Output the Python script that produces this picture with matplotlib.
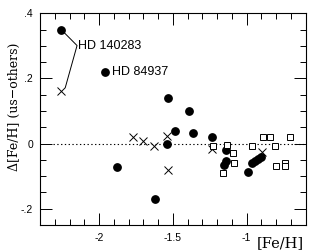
import matplotlib
matplotlib.use('Agg')
import matplotlib.pyplot as plt
from matplotlib.ticker import MultipleLocator

# filled circles
circ_feh = [-2.261, -1.957, -1.530, -1.388, -1.484, -1.361, -1.232, -1.541,
            -1.140, -1.155, -1.140, -0.989, -0.966, -0.945, -0.925, -0.900,
            -1.620, -1.878]
circ_d = [0.350, 0.221, 0.141, 0.100, 0.039, 0.031, 0.020, 0.000,
          -0.020, -0.066, -0.054, -0.087, -0.060, -0.053, -0.047, -0.040,
          -0.170, -0.071]

# crosses
cross_feh = [-2.261, -1.770, -1.699, -1.626, -1.541, -1.530, -1.232, -0.899]
cross_d = [0.161, 0.020, 0.008, -0.008, 0.022, -0.081, -0.018, -0.026]

# open squares
sq_feh = [-1.230, -1.135, -1.095, -1.086, -1.158, -0.966, -0.892, -0.843,
          -0.809, -0.802, -0.739, -0.739, -0.707]
sq_d = [-0.008, -0.005, -0.029, -0.059, -0.090, -0.008, 0.020, 0.020,
        -0.008, -0.069, -0.059, -0.069, 0.020]

xticks = [-2, -1.5, -1]
xticklabels = ['-2', '-1.5', '-1']
yticks = [-0.2, 0, 0.2, 0.4]
yticklabels = ['-.2', '0', '.2', '.4']

fig = plt.figure(figsize=(3.09, 2.52), dpi=100)
ax = fig.add_axes([0.1294, 0.1071, 0.86, 0.8401])

ax.plot([-2.31, -0.6], [0, 0], color='black', linestyle=(0, (1.2, 2.2)), lw=0.8)

ax.plot(circ_feh, circ_d, 'o', color='black', markersize=5.3, linestyle='none')
ax.plot(cross_feh, cross_d, 'x', color='black', markersize=5.6, mew=0.7, linestyle='none')
ax.plot(sq_feh, sq_d, 's', mfc='white', mec='black', markersize=4.3, mew=0.7, linestyle='none')

# star labels
ax.plot([-2.239, -2.149, -2.228], [0.342, 0.301, 0.173], color='black', lw=0.7)
ax.text(-2.140, 0.299, 'HD 140283', fontsize=9, family='Liberation Sans', va='center', ha='left')
ax.text(-1.910, 0.221, 'HD 84937', fontsize=9, family='Liberation Sans', va='center', ha='left')

ax.set_xlim(-2.4, -0.6)
ax.set_ylim(-0.25, 0.4)
ax.set_xticks(xticks)
ax.set_xticklabels(xticklabels)
ax.set_yticks(yticks)
ax.set_yticklabels(yticklabels)
ax.xaxis.set_minor_locator(MultipleLocator(0.1))
ax.yaxis.set_minor_locator(MultipleLocator(0.05))
ax.tick_params(which='both', direction='in', top=True, right=True, width=0.7,
               labelsize=7.5, labelfontfamily='Liberation Sans')
ax.tick_params(which='major', length=8.5)
ax.tick_params(which='minor', length=4)
ax.tick_params(axis='x', pad=6)
ax.tick_params(axis='y', pad=5)
for s in ax.spines.values():
    s.set_linewidth(0.8)

fig.text(0.908, 0.035, '[Fe/H]', fontsize=10.5, family='DejaVu Serif', ha='center', va='center')
fig.text(0.048, 0.575, '\u0394[Fe/H] (us\u2212others)', fontsize=9, family='DejaVu Serif',
         rotation=90, ha='center', va='center')

fig.savefig('out.png', dpi=100)
